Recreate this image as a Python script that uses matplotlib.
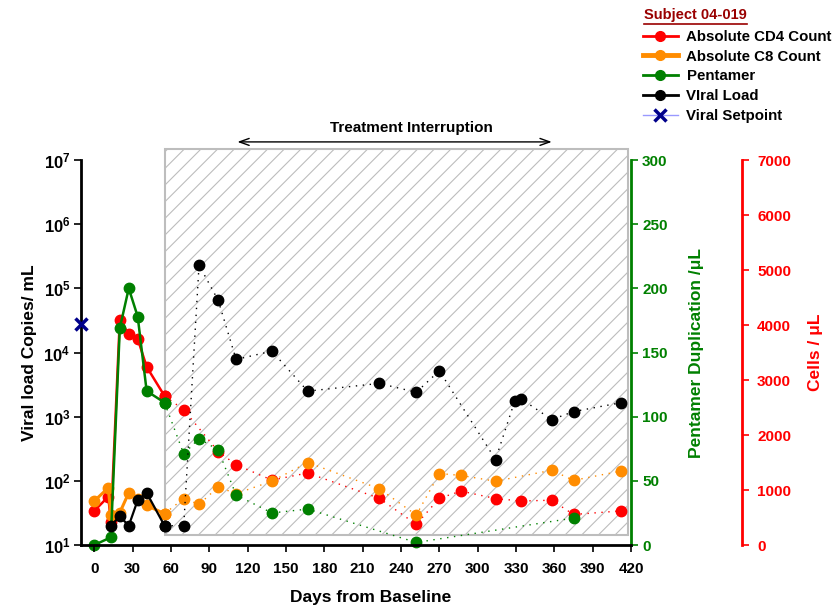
# Subject 04-019: viral load, T-cell counts and pentamer over time, with the treatment interruption window

import numpy as np
import matplotlib
matplotlib.use('Agg')
import matplotlib.pyplot as plt
import matplotlib.transforms as mtransforms
from matplotlib.patches import Rectangle
from matplotlib.lines import Line2D
from matplotlib.ticker import NullLocator, FixedLocator

plt.rcParams['font.family'] = ['Liberation Sans', 'DejaVu Sans']
plt.rcParams['font.weight'] = 'bold'
plt.rcParams['mathtext.fontset'] = 'custom'
plt.rcParams['mathtext.bf'] = 'Liberation Sans:bold'
plt.rcParams['mathtext.rm'] = 'Liberation Sans:bold'
plt.rcParams['hatch.linewidth'] = 0.8

# viral load (copies/mL), on treatment then during interruption
vl_days_on = [13, 20, 27, 34, 41, 55]
vl_on = [20, 28, 20, 50, 65, 20]
vl_days_off = [55, 70, 82, 97, 111, 139, 167, 223, 252, 270, 314, 329, 334, 358, 375, 412]
vl_off = [20, 20, 230000, 65000, 7800, 10500, 2500, 3300, 2400, 5200, 215, 1750, 1900, 900, 1200, 1650]

# absolute CD4 (cells/uL)
cd4_days_on = [0, 11, 13, 20, 27, 34, 41, 55]
cd4_on = [620, 880, 410, 4100, 3830, 3750, 3240, 2710]
cd4_days_off = [55, 70, 97, 111, 139, 167, 223, 252, 270, 287, 314, 334, 358, 375, 412]
cd4_off = [2710, 2460, 1700, 1460, 1180, 1310, 850, 375, 850, 980, 845, 800, 815, 555, 620]

# absolute CD8 (cells/uL)
cd8_days_on = [0, 11, 13, 20, 27, 34, 41, 55]
cd8_on = [800, 1040, 540, 590, 950, 830, 720, 570]
cd8_days_off = [55, 70, 82, 97, 111, 139, 167, 223, 252, 270, 287, 314, 358, 375, 412]
cd8_off = [570, 845, 740, 1055, 935, 1160, 1500, 1025, 545, 1300, 1265, 1160, 1360, 1175, 1345]

# pentamer duplication (/uL)
pent_days_on = [0, 13, 20, 27, 34, 41, 55]
pent_on = [0, 6, 169, 200, 178, 120, 111]
pent_days_off = [55, 70, 82, 97, 111, 139, 167, 252, 375]
pent_off = [111, 71, 83, 74, 39, 25, 28, 2, 21]

setpoint_day = -10
setpoint_val = 28000

interruption = (112, 358)
shade = (55, 418)
x_ticks = list(range(0, 421, 30))

RED = '#FF0000'
ORANGE = '#FF8C00'
GREEN = '#008000'
NAVY = '#00008B'
dotted = (0, (1, 4))

fig = plt.figure(figsize=(8.39, 6.07), dpi=100)
ax = fig.add_axes([0.0971, 0.1021, 0.6550, 0.6343])
ax2 = ax.twinx()
ax3 = ax.twinx()

ax3.set_zorder(1)
ax2.set_zorder(2)
ax.set_zorder(3)
ax.patch.set_visible(False)
ax2.patch.set_visible(False)

# hatched interruption box, drawn under everything
blend = mtransforms.blended_transform_factory(ax3.transData, ax3.transAxes)
ax3.add_patch(Rectangle((shade[0], 0.026), shade[1] - shade[0], 1.0026,
                        transform=blend, facecolor='white', edgecolor='#BDBDBD',
                        hatch='//', linewidth=1.5, clip_on=False, zorder=0))

# cells axis
ax3.plot(cd4_days_on, cd4_on, color=RED, lw=1.8, marker='o', ms=7.5, zorder=3)
ax3.plot(cd4_days_off, cd4_off, color=RED, lw=1, ls=dotted, marker='o', ms=7.5, zorder=3)
ax3.plot(cd8_days_on, cd8_on, color=ORANGE, lw=2.2, marker='o', ms=7.5, zorder=4)
ax3.plot(cd8_days_off, cd8_off, color=ORANGE, lw=1, ls=dotted, marker='o', ms=7.5, zorder=4)
ax3.set_ylim(0, 7000)
ax3.set_yticks(range(0, 7001, 1000))

# pentamer axis
ax2.plot(pent_days_on, pent_on, color=GREEN, lw=1.8, marker='o', ms=7.5, clip_on=False)
ax2.plot(pent_days_off, pent_off, color=GREEN, lw=1, ls=dotted, marker='o', ms=7.5, clip_on=False)
ax2.set_ylim(0, 300)
ax2.set_yticks(range(0, 301, 50))

# viral load axis
ax.plot(vl_days_on, vl_on, color='black', lw=1.6, marker='o', ms=7.5)
ax.plot(vl_days_off, vl_off, color='black', lw=1, ls=dotted, marker='o', ms=7.5)
ax.plot([setpoint_day], [setpoint_val], ls='none', marker='x', color=NAVY,
        ms=9, mew=2.5, clip_on=False, zorder=5)
ax.set_yscale('log')
ax.set_ylim(10, 1e7)
ax.yaxis.set_major_locator(FixedLocator([10.0 ** k for k in range(1, 8)]))
ax.yaxis.set_minor_locator(NullLocator())
ax.set_yticklabels([r'$\mathbf{10^{%d}}$' % k for k in range(1, 8)])
ax.set_xlim(-10, 420)
ax.set_xticks(x_ticks)

# spines
for s in ['top', 'right']:
    ax.spines[s].set_visible(False)
for s in ['left', 'bottom']:
    ax.spines[s].set_linewidth(2)
for s in ['top', 'left', 'bottom']:
    ax2.spines[s].set_visible(False)
    ax3.spines[s].set_visible(False)
ax2.spines['right'].set_color(GREEN)
ax2.spines['right'].set_linewidth(2)
ax3.spines['right'].set_position(('axes', 1.2015))
ax3.spines['right'].set_color(RED)
ax3.spines['right'].set_linewidth(2)

ax.tick_params(axis='x', direction='out', length=5, width=1.2, labelsize=11, pad=7)
ax.tick_params(axis='y', direction='out', length=5, width=1.2, labelsize=12, pad=3)
ax2.tick_params(axis='y', colors=GREEN, direction='out', length=5, width=1.2, labelsize=11, pad=3)
ax3.tick_params(axis='y', colors=RED, direction='out', length=5, width=1.2, labelsize=11, pad=6)

ax.set_xlabel('Days from Baseline', fontsize=12.5, fontweight='bold', va='center')
ax.xaxis.set_label_coords(0.527, -0.135)
ax.set_ylabel('Viral load Copies/ mL', fontsize=12.5, fontweight='bold', va='center')
ax.yaxis.set_label_coords(-0.095, 0.5)
ax2.set_ylabel('Pentamer Duplication /μL', fontsize=12.5, fontweight='bold', color=GREEN,
               rotation=90, va='center')
ax2.yaxis.set_label_coords(1.12, 0.5)
ax3.set_ylabel('Cells / μL', fontsize=12.5, fontweight='bold', color=RED,
               rotation=90, va='center')
ax3.yaxis.set_label_coords(1.336, 0.5)

# treatment interruption arrow
blend_top = mtransforms.blended_transform_factory(ax.transData, ax.transAxes)
ax.annotate('', xy=(interruption[0], 1.047), xytext=(interruption[1], 1.047),
            xycoords=blend_top, textcoords=blend_top,
            arrowprops=dict(arrowstyle='<->,head_length=0.7,head_width=0.25', lw=1,
                            color='black', shrinkA=0, shrinkB=0))
ax.text(248, 1.082, 'Treatment Interruption', transform=blend_top,
        ha='center', va='center', fontsize=11, fontweight='bold')

# legend
handles = [
    Line2D([], [], color=RED, lw=2, marker='o', ms=7),
    Line2D([], [], color=ORANGE, lw=3.5, marker='o', ms=7),
    Line2D([], [], color=GREEN, lw=2, marker='o', ms=7),
    Line2D([], [], color='black', lw=2, marker='o', ms=7),
    Line2D([], [], color='#9999FF', lw=1, marker='x', ms=8, mew=2.5, mec=NAVY),
]
labels = ['Absolute CD4 Count', 'Absolute C8 Count', 'Pentamer', 'VIral Load', 'Viral Setpoint']
fig.legend(handles, labels, loc='upper left', bbox_to_anchor=(643 / 839, 1 - 30 / 607),
           frameon=False, handlelength=2.3, handletextpad=0.6,
           labelspacing=0.38, borderpad=0, borderaxespad=0,
           prop={'weight': 'bold', 'size': 10.8})

title = fig.text(644 / 839, 1 - 15 / 607, 'Subject 04-019', color='#990000',
                 fontsize=10.5, fontweight='bold', ha='left', va='center')
fig.canvas.draw()
bb = title.get_window_extent().transformed(fig.transFigure.inverted())
fig.add_artist(Line2D([bb.x0, bb.x1], [bb.y0 - 0.003, bb.y0 - 0.003],
                      transform=fig.transFigure, color='#990000', lw=1.2))

fig.savefig('out.png', dpi=100)
